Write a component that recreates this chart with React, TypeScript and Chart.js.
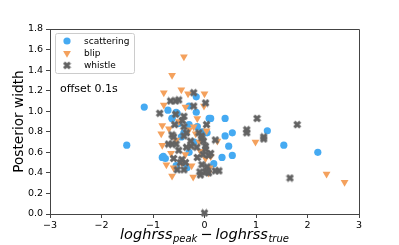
import React, { useEffect, useRef } from 'react';
import { Chart, registerables } from 'chart.js';

Chart.register(...registerables);

const seriesLabels = ['scattering', 'blip', 'whistle'];
const seriesColors = ['#45aaf2', '#f4a15d', '#636363'];

const scatteringX = [-1.51, -1.17, -0.71, -0.53, -0.16, -0.16, 0.09, 0.12, 0.40, -0.63, -0.14, 0.54, 0.40, 1.22, 1.54, 0.47, 2.20, 0.54, 0.34, 0.18, 0.05, -0.04, -0.82, -0.76, -0.34, -0.50, -0.45, -0.80, -0.30, -0.55, -0.20, -0.30, -0.30, -0.40, -0.55, -0.63];
const scatteringY = [0.67, 1.04, 1.01, 0.98, 1.14, 0.99, 0.93, 0.93, 0.93, 0.93, 0.85, 0.79, 0.76, 0.81, 0.67, 0.66, 0.60, 0.57, 0.55, 0.49, 0.79, 0.80, 0.55, 0.54, 0.45, 0.88, 0.75, 0.56, 0.60, 0.47, 0.70, 1.05, 0.87, 0.79, 0.99, 0.93];

const blipX = [-0.40, -0.63, -0.79, -0.45, -0.32, 0.00, -0.79, -0.37, -0.01, -0.14, -0.82, -0.69, -0.21, -0.84, -0.17, 0.04, 0.25, 0.99, 0.02, 0.12, 2.37, 2.72, 0.08, -0.82, -0.65, -0.74, -0.63, -0.22, -0.37, -0.08, -0.50, -0.30, -0.55, -0.10, -0.45, -0.60, -0.25, 0.10];
const blipY = [1.53, 1.35, 1.18, 1.21, 1.17, 1.17, 1.06, 1.04, 1.05, 0.93, 0.86, 0.83, 0.85, 0.78, 0.78, 0.81, 0.71, 0.70, 0.54, 0.56, 0.39, 0.31, 0.40, 0.67, 0.59, 0.48, 0.37, 0.36, 0.58, 0.61, 0.90, 0.82, 0.72, 0.70, 0.50, 0.45, 0.47, 0.45];

const whistleX = [-0.21, -0.66, -0.56, -0.50, -0.21, 0.02, -0.87, -0.56, -0.40, -0.43, -0.40, 0.04, 1.02, 1.80, 0.82, 0.82, 1.15, 1.15, 0.21, 0.02, 0.02, 0.12, 0.05, -0.05, 1.66, 0.28, 0.21, 0.02, 0.08, -0.08, 0.00, -0.05, -0.02, -0.58, -0.63, -0.60, -0.40, -0.35, -0.11, -0.06, -0.70, -0.63, -0.55, -0.27, -0.26, -0.60, -0.44, -0.47, -0.37, -0.53, -0.40, -0.14, -0.03, 0.08, -0.09, 0.05, -0.50, -0.35, -0.15];
const whistleY = [1.18, 1.10, 1.10, 1.11, 1.05, 1.08, 0.98, 0.97, 0.95, 0.91, 0.85, 0.87, 0.93, 0.87, 0.82, 0.79, 0.75, 0.73, 0.72, 0.66, 0.63, 0.59, 0.46, 0.48, 0.35, 0.42, 0.42, 0.41, 0.40, 0.38, 0.01, 0.74, 0.71, 0.87, 0.77, 0.75, 0.76, 0.79, 0.79, 0.76, 0.68, 0.68, 0.68, 0.71, 0.66, 0.54, 0.53, 0.50, 0.50, 0.43, 0.43, 0.55, 0.58, 0.57, 0.41, 0.41, 0.62, 0.65, 0.65];

const xMin = -3;
const xMax = 3;
const yMin = 0;
const yMax = 1.8;
const annotationText = 'offset 0.1s';
const yTitle = 'Posterior width';
const xTitleParts = ['loghrss', 'peak', '\u2212', 'loghrss', 'true'];

const FONT = '"DejaVu Sans", sans-serif';

function toPoints(xs: number[], ys: number[]) {
  return xs.map((x, i) => ({ x, y: ys[i] }));
}

function makeXMarker(color: string) {
  const c = document.createElement('canvas');
  c.width = 9;
  c.height = 9;
  const g = c.getContext('2d')!;
  g.fillStyle = color;
  g.translate(4.5, 4.5);
  g.rotate(Math.PI / 4);
  const L = 8.2;
  const w = 2.9;
  g.fillRect(-L / 2, -w / 2, L, w);
  g.fillRect(-w / 2, -L / 2, w, L);
  return c;
}

function drawLegendMarker(ctx: CanvasRenderingContext2D, i: number, x: number, y: number, xImg: HTMLCanvasElement) {
  ctx.save();
  ctx.fillStyle = seriesColors[i];
  if (i === 0) {
    ctx.beginPath();
    ctx.arc(x, y, 3.6, 0, Math.PI * 2);
    ctx.fill();
  } else if (i === 1) {
    const r = 4.5;
    ctx.beginPath();
    ctx.moveTo(x, y + r);
    ctx.lineTo(x - r * Math.sin(Math.PI / 3), y - r / 2);
    ctx.lineTo(x + r * Math.sin(Math.PI / 3), y - r / 2);
    ctx.closePath();
    ctx.fill();
  } else {
    ctx.drawImage(xImg, x - 4.5, y - 4.5);
  }
  ctx.restore();
}

export default function App() {
  const ref = useRef<HTMLCanvasElement | null>(null);

  useEffect(() => {
    if (!ref.current) return;
    const xImg = makeXMarker(seriesColors[2]);

    const decor = {
      id: 'decor',
      afterDraw(chart: any) {
        const ctx: CanvasRenderingContext2D = chart.ctx;
        const a = chart.chartArea;
        ctx.save();
        // top and right spines
        ctx.strokeStyle = '#444';
        ctx.lineWidth = 1;
        ctx.beginPath();
        ctx.moveTo(a.left, a.top + 0.5);
        ctx.lineTo(a.right + 0.5, a.top + 0.5);
        ctx.lineTo(a.right + 0.5, a.bottom);
        ctx.stroke();

        // annotation
        ctx.fillStyle = '#000';
        ctx.font = `11px ${FONT}`;
        ctx.textAlign = 'left';
        ctx.textBaseline = 'alphabetic';
        ctx.fillText(annotationText, 60, 92);

        // legend
        const lx = 55.5, ly = 33.5, lw = 79, lh = 40;
        ctx.fillStyle = 'rgba(255,255,255,0.8)';
        ctx.strokeStyle = '#cccccc';
        ctx.lineWidth = 1;
        ctx.beginPath();
        (ctx as any).roundRect(lx, ly, lw, lh, 2);
        ctx.fill();
        ctx.stroke();
        ctx.font = `9px ${FONT}`;
        ctx.textBaseline = 'middle';
        seriesLabels.forEach((lab, i) => {
          const yy = 41 + i * 12.2;
          drawLegendMarker(ctx, i, 67, yy, xImg);
          ctx.fillStyle = '#000';
          ctx.fillText(lab, 84, yy + 0.5);
        });

        // y title
        ctx.save();
        ctx.translate(23, (a.top + a.bottom) / 2);
        ctx.rotate(-Math.PI / 2);
        ctx.font = `13.7px ${FONT}`;
        ctx.textAlign = 'center';
        ctx.textBaseline = 'alphabetic';
        ctx.fillStyle = '#000';
        ctx.fillText(yTitle, 0, 0);
        ctx.restore();

        // x title with subscripts
        const big = `italic 14.5px ${FONT}`;
        const small = `italic 10px ${FONT}`;
        const roman = `14.5px ${FONT}`;
        const fonts = [big, small, roman, big, small];
        const offs = [0, 3, 0, 0, 3];
        const gaps = [0, 0.5, 3, 3, 0.5];
        let total = 0;
        const widths = xTitleParts.map((t, i) => {
          ctx.font = fonts[i];
          const w = ctx.measureText(t).width;
          total += w + gaps[i];
          return w;
        });
        let x = (a.left + a.right) / 2 - total / 2;
        const base = 239;
        ctx.textAlign = 'left';
        ctx.textBaseline = 'alphabetic';
        ctx.fillStyle = '#000';
        xTitleParts.forEach((t, i) => {
          x += gaps[i];
          ctx.font = fonts[i];
          ctx.fillText(t, x, base + offs[i]);
          x += widths[i];
        });
        ctx.restore();
      },
    };

    const chart = new Chart(ref.current, {
      type: 'scatter',
      data: {
        datasets: [
          {
            label: seriesLabels[0],
            data: toPoints(scatteringX, scatteringY),
            pointStyle: 'circle',
            pointRadius: 3.6,
            pointBorderWidth: 0,
            backgroundColor: seriesColors[0],
            borderColor: seriesColors[0],
            order: 3,
            clip: false,
          },
          {
            label: seriesLabels[1],
            data: toPoints(blipX, blipY),
            pointStyle: 'triangle',
            pointRotation: 180,
            pointRadius: 4.5,
            pointBorderWidth: 0,
            backgroundColor: seriesColors[1],
            borderColor: seriesColors[1],
            order: 2,
            clip: false,
          },
          {
            label: seriesLabels[2],
            data: toPoints(whistleX, whistleY),
            pointStyle: xImg,
            pointRadius: 4.5,
            pointBorderWidth: 0,
            backgroundColor: seriesColors[2],
            borderColor: seriesColors[2],
            order: 1,
            clip: false,
          },
        ],
      },
      options: {
        animation: false,
        responsive: false,
        devicePixelRatio: 1,
        layout: { padding: { top: 29, right: 40, left: 0, bottom: 0 } },
        plugins: {
          legend: { display: false },
          tooltip: { enabled: false },
        },
        scales: {
          x: {
            type: 'linear',
            min: xMin,
            max: xMax,
            afterFit(s: any) { s.height = 31; },
            grid: { display: true, drawOnChartArea: false, drawTicks: true, tickLength: 4, color: '#444' },
            border: { display: true, color: '#444', width: 1 },
            ticks: {
              stepSize: 1,
              padding: 2,
              color: '#000',
              font: { family: FONT, size: 9.5 },
              callback: (v: any) => String(v).replace('-', '\u2212'),
            },
          },
          y: {
            type: 'linear',
            min: yMin,
            max: yMax,
            afterFit(s: any) { s.width = 50; },
            grid: { display: true, drawOnChartArea: false, drawTicks: true, tickLength: 4, color: '#444' },
            border: { display: true, color: '#444', width: 1 },
            ticks: {
              stepSize: 0.2,
              padding: 3,
              color: '#000',
              font: { family: FONT, size: 9.5 },
              callback: (v: any) => Number(v).toFixed(1),
            },
          },
        },
      },
      plugins: [decor],
    });
    return () => chart.destroy();
  }, []);

  return (
    <div style={{ position: 'absolute', left: 0, top: 0, width: 399, height: 245 }}>
      <canvas ref={ref} width={399} height={245} style={{ width: 399, height: 245 }} />
    </div>
  );
}
